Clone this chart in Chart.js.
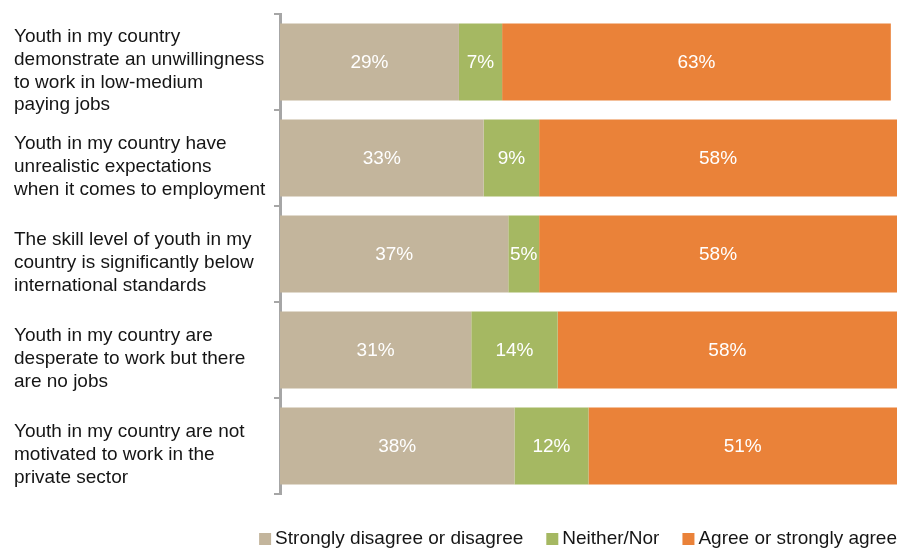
<!DOCTYPE html>
<html>
<head>
<meta charset="utf-8">
<script src="https://cdn.jsdelivr.net/npm/chart.js@4.4.1/dist/chart.umd.min.js"></script>
<style>
  html, body { margin: 0; padding: 0; background: #fff; }
  #wrap { width: 899px; height: 550px; position: relative; }
</style>
</head>
<body>
<div id="wrap"><canvas id="c" width="899" height="550"></canvas></div>
<script>
// Survey statements (wrapped lines) and response shares in percent
const statements = [
  ["Youth in my country", "demonstrate an unwillingness", "to work in low-medium", "paying jobs"],
  ["Youth in my country have", "unrealistic expectations", "when it comes to employment"],
  ["The skill level of youth in my", "country is significantly below", "international standards"],
  ["Youth in my country are", "desperate to work but there", "are no jobs"],
  ["Youth in my country are not", "motivated to work in the", "private sector"]
];
const disagree = [29, 33, 37, 31, 38];
const neither  = [7, 9, 5, 14, 12];
const agree    = [63, 58, 58, 58, 51];

const seriesNames = ["Strongly disagree or disagree", "Neither/Nor", "Agree or strongly agree"];
const colours = ["#C3B59C", "#A5B862", "#EA8239"];

const FONT = '"Liberation Sans", Arial, sans-serif';

// Writes each segment's percentage in white at its centre
const segmentLabels = {
  id: 'segmentLabels',
  afterDatasetsDraw(chart) {
    const ctx = chart.ctx;
    ctx.save();
    ctx.font = '19px ' + FONT;
    ctx.fillStyle = '#ffffff';
    ctx.textAlign = 'center';
    ctx.textBaseline = 'middle';
    chart.data.datasets.forEach((ds, di) => {
      const meta = chart.getDatasetMeta(di);
      meta.data.forEach((bar, i) => {
        const left = Math.min(bar.base, bar.x);
        const right = Math.min(Math.max(bar.base, bar.x), chart.chartArea.right);
        ctx.fillText(ds.data[i] + '%', (left + right) / 2, bar.y + 1);
      });
    });
    ctx.restore();
  }
};

// Legend row under the plot, right-aligned, small square swatches
const bottomLegend = {
  id: 'bottomLegend',
  afterDraw(chart) {
    const ctx = chart.ctx;
    ctx.save();
    ctx.font = '19px ' + FONT;
    ctx.textBaseline = 'middle';
    ctx.textAlign = 'left';
    const box = 12, gapText = 4, gapItem = 23;
    const items = chart.data.datasets.map(ds => ({
      text: ds.label, colour: ds.backgroundColor, w: ctx.measureText(ds.label).width
    }));
    const total = items.reduce((s, it) => s + box + gapText + it.w, 0) + gapItem * (items.length - 1);
    let x = 897 - total;
    const cy = 539;
    items.forEach(it => {
      ctx.fillStyle = it.colour;
      ctx.fillRect(x, cy - 6, box, box);
      ctx.fillStyle = '#151515';
      ctx.fillText(it.text, x + box + gapText, cy);
      x += box + gapText + it.w + gapItem;
    });
    ctx.restore();
  }
};

new Chart(document.getElementById('c'), {
  type: 'bar',
  data: {
    labels: statements,
    datasets: [
      { label: seriesNames[0], data: disagree, backgroundColor: colours[0] },
      { label: seriesNames[1], data: neither,  backgroundColor: colours[1] },
      { label: seriesNames[2], data: agree,    backgroundColor: colours[2] }
    ]
  },
  options: {
    indexAxis: 'y',
    responsive: false,
    animation: false,
    devicePixelRatio: 1,
    layout: { padding: { top: 14, right: 2, bottom: 56, left: 14 } },
    datasets: { bar: { categoryPercentage: 0.8, barPercentage: 1.0, borderWidth: 0 } },
    scales: {
      x: { stacked: true, min: 0, max: 100, display: false },
      y: {
        stacked: true,
        afterFit(scale) {
          scale.width = 266;
          scale.paddingTop = 0;
          scale.paddingBottom = 0;
        },
        border: { display: true, color: '#A6A6A6', width: 3 },
        grid: {
          offset: true,
          drawOnChartArea: false,
          drawTicks: true,
          tickLength: 6,
          color: '#A6A6A6',
          lineWidth: 2
        },
        ticks: {
          crossAlign: 'far',
          padding: 6,
          labelOffset: 9,
          color: '#151515',
          font: { family: FONT, size: 19, lineHeight: 1.2 }
        }
      }
    },
    plugins: {
      tooltip: { enabled: false },
      legend: { display: false }
    }
  },
  plugins: [segmentLabels, bottomLegend]
});
</script>
</body>
</html>
